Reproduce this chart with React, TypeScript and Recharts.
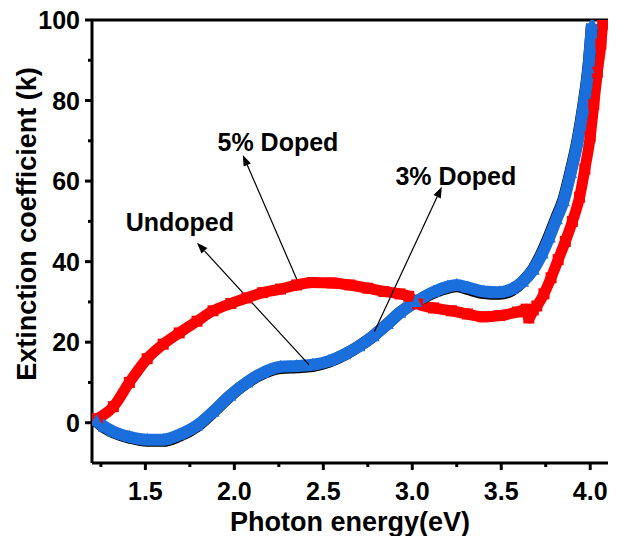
import React from 'react'
import { LineChart, Line, XAxis, YAxis, ReferenceLine, ReferenceDot } from 'recharts'

// 5% doped (red squares)
const energy5 = [1.23, 1.32, 1.41, 1.51, 1.6, 1.69, 1.79, 1.88, 1.98, 2.07, 2.16, 2.26, 2.35, 2.44, 2.55, 2.65, 2.75, 2.84, 2.93, 2.98, 3.03, 3.12, 3.22, 3.31, 3.4, 3.49, 3.59, 3.64, 3.655, 3.68, 3.7, 3.74, 3.78, 3.82, 3.86, 3.9, 3.94, 3.97, 4.0, 4.02, 4.04, 4.06, 4.07]
const k5 = [1.0, 4, 10, 15.9, 19.5, 22.3, 25.2, 27.8, 29.6, 31, 32.3, 33.2, 34.2, 34.8, 34.7, 34.2, 33.4, 32.6, 32, 31.4, 29.5, 28.5, 27.8, 27, 26.3, 26.6, 27.5, 28.2, 26, 28, 29, 32, 36, 40.5, 45, 50, 56, 63, 71, 79, 87, 94, 99]

// undoped (blue triangles) and 3% doped (black, mostly hidden under blue)
const energyU = [1.225, 1.27, 1.32, 1.41, 1.51, 1.6, 1.69, 1.79, 1.88, 1.975, 2.07, 2.16, 2.26, 2.35, 2.44, 2.53, 2.62, 2.7, 2.78, 2.86, 2.93, 3.02, 3.12, 3.2, 3.25, 3.31, 3.4, 3.49, 3.56, 3.62, 3.68, 3.73, 3.77, 3.81, 3.85, 3.89, 3.93, 3.96, 3.99, 4.01]
const kUndoped = [0.5, -1, -2.2, -3.5, -4.2, -4.2, -3, -0.7, 2.7, 6.7, 10, 12.4, 13.9, 14.1, 14.4, 15.3, 17, 19, 21.5, 24.5, 27.3, 30, 32.5, 33.8, 34.2, 33.6, 32.6, 32.4, 33.2, 35, 38, 42, 46, 50.5, 55, 62, 70, 78, 88, 99]
const k3 = [0.4, -1.2, -2.4, -3.7, -4.5, -4.5, -3.3, -0.9, 2.6, 6.6, 9.9, 12.2, 13.6, 13.8, 14.1, 15.1, 16.9, 19, 21.5, 24.5, 27.3, 30, 32.3, 33.5, 33.9, 33.2, 32.2, 32.0, 32.9, 35, 38.2, 42.4, 46.5, 51, 55.5, 62.5, 70.5, 78.5, 88.5, 99]

const xTicks = [1.25, 1.5, 1.75, 2.0, 2.25, 2.5, 2.75, 3.0, 3.25, 3.5, 3.75, 4.0]
const yTicks = [0, 10, 20, 30, 40, 50, 60, 70, 80, 90, 100]

// label text position and arrow (tail on curve -> head near text)
const notes = [
  { text: '5% Doped', at: [2.245, 69.7], tail: [2.352, 35.5], head: [2.048, 66.5] },
  { text: 'Undoped', at: [1.694, 49.9], tail: [2.436, 13.6], head: [1.79, 44.7] },
  { text: '3% Doped', at: [3.245, 61.3], tail: [2.773, 21.3], head: [3.166, 58.6] },
]

const FONT = '"Liberation Sans", Arial, sans-serif'

const toRows = (xs: number[], ys: number[]) => xs.map((e, i) => ({ e, k: ys[i] }))
const red = toRows(energy5, k5)
const blue = toRows(energyU, kUndoped)
const black = toRows(energyU, k3)

const isMajor = (v: number, step: number) => Math.abs(v / step - Math.round(v / step)) < 1e-6

const XTick = (props: any) => {
  const { x, y, payload } = props
  const major = isMajor(payload.value, 0.5)
  return (
    <g>
      <line x1={x} x2={x} y1={y} y2={y + (major ? 7 : 4)} stroke="#000" strokeWidth={3} />
      {major && (
        <text x={x} y={y + 37} textAnchor="middle" fontSize={25} fontWeight="bold" fontFamily={FONT} fill="#000">
          {payload.value.toFixed(1)}
        </text>
      )}
    </g>
  )
}

const YTick = (props: any) => {
  const { x, y, payload } = props
  const major = isMajor(payload.value, 20)
  return (
    <g>
      <line x1={x} x2={x - (major ? 7 : 4)} y1={y} y2={y} stroke="#000" strokeWidth={3} />
      {major && (
        <text x={x - 12} y={y + 9} textAnchor="end" fontSize={25} fontWeight="bold" fontFamily={FONT} fill="#000">
          {payload.value}
        </text>
      )}
    </g>
  )
}

const Arrow = (p: any) => {
  const { x1, y1, x2, y2 } = p
  const ang = Math.atan2(y2 - y1, x2 - x1)
  const L = 11
  const W = 4
  const bx = x2 - L * Math.cos(ang)
  const by = y2 - L * Math.sin(ang)
  const px = -Math.sin(ang) * W
  const py = Math.cos(ang) * W
  return (
    <g>
      <line x1={x1} y1={y1} x2={bx} y2={by} stroke="#000" strokeWidth={1.2} />
      <polygon points={`${x2},${y2} ${bx + px},${by + py} ${bx - px},${by - py}`} fill="#000" />
    </g>
  )
}

const Square = (p: any) => (
  <rect key={`sq-${p.index}`} x={p.cx - 5.5} y={p.cy - 5.5} width={11} height={11} fill="#ff0000" />
)

const Triangle = (p: any) => (
  <polygon
    key={`tr-${p.index}`}
    points={`${p.cx},${p.cy - 7} ${p.cx - 6.5},${p.cy + 5} ${p.cx + 6.5},${p.cy + 5}`}
    fill="#1b6fdc"
  />
)

const XTitle = () => (
  <text x={350} y={531} textAnchor="middle" fontSize={27} fontWeight="bold" fontFamily={FONT} fill="#000">
    Photon energy(eV)
  </text>
)

const YTitle = () => (
  <text
    x={27}
    y={224}
    transform="rotate(-90 27 224)"
    textAnchor="middle"
    dominantBaseline="central"
    fontSize={27}
    fontWeight="bold"
    fontFamily={FONT}
    fill="#000"
  >
    Extinction coefficient (k)
  </text>
)

export default function App() {
  return (
    <div style={{ width: 620, height: 544, margin: -8, background: '#fff' }}>
      <LineChart width={620} height={544} margin={{ top: 20, right: 12, left: 0, bottom: 0 }}>
        <XAxis
          dataKey="e"
          type="number"
          domain={[1.2, 4.1]}
          ticks={xTicks}
          interval={0}
          allowDataOverflow
          tick={<XTick />}
          tickLine={false}
          tickSize={0}
          tickMargin={0}
          axisLine={{ stroke: '#000', strokeWidth: 3 }}
          height={81}
          label={XTitle}
        />
        <YAxis
          type="number"
          domain={[-10, 100]}
          ticks={yTicks}
          interval={0}
          allowDataOverflow
          tick={<YTick />}
          tickLine={false}
          tickSize={0}
          tickMargin={0}
          axisLine={{ stroke: '#000', strokeWidth: 3 }}
          width={92}
          label={YTitle}
        />
        <ReferenceLine y={100} stroke="#000" strokeWidth={3} />
        <Line
          data={red}
          dataKey="k"
          type="monotone"
          stroke="#ff0000"
          strokeWidth={11}
          dot={Square}
          isAnimationActive={false}
        />
        <Line
          data={black}
          dataKey="k"
          type="monotone"
          stroke="#000"
          strokeWidth={12}
          dot={false}
          isAnimationActive={false}
        />
        <Line
          data={blue}
          dataKey="k"
          type="monotone"
          stroke="#1b6fdc"
          strokeWidth={12}
          dot={Triangle}
          isAnimationActive={false}
        />
        {notes.map((n) => (
          <ReferenceLine
            key={`arrow-${n.text}`}
            segment={[
              { x: n.tail[0], y: n.tail[1] },
              { x: n.head[0], y: n.head[1] },
            ]}
            shape={Arrow}
          />
        ))}
        {notes.map((n) => (
          <ReferenceDot
            key={`note-${n.text}`}
            x={n.at[0]}
            y={n.at[1]}
            r={0}
            fill="none"
            stroke="none"
            label={{
              value: n.text,
              position: 'center',
              fontSize: 25,
              fontWeight: 'bold',
              fontFamily: FONT,
              fill: '#000',
            }}
          />
        ))}
      </LineChart>
    </div>
  )
}
